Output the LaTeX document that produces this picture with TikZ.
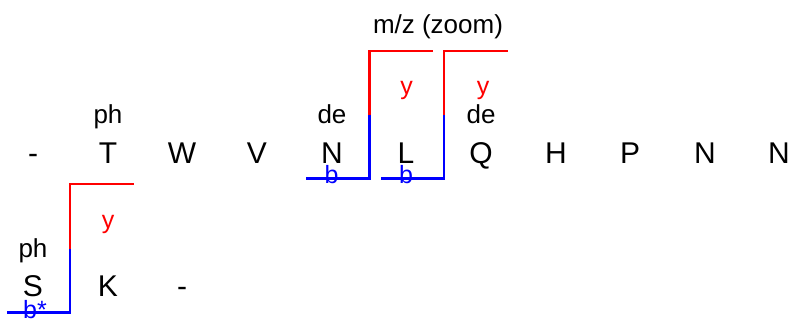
\documentclass[tikz,border=0pt]{standalone}
\usepackage{fontspec}
\setmainfont{Liberation Sans}
\begin{document}
\begin{tikzpicture}[x=1pt,y=-1pt,
  res/.style={font=\fontsize{30}{34}\selectfont, inner sep=0pt, anchor=base},
  lab/.style={font=\fontsize{26}{29}\selectfont, inner sep=0pt, anchor=base},
  ion/.style={font=\fontsize{25}{28}\selectfont, inner sep=0pt, anchor=base},
  bline/.style={draw=blue, line width=2.4pt},
  yline/.style={draw=red, line width=2.4pt}]
\useasboundingbox (0,0) rectangle (790,325);
% row 1 residues
\node[res] (r1) at (33,163.3) {-};
\node[res] (r2) at (108,163.3) {T};
\node[res] (r3) at (182,163.3) {W};
\node[res] (r4) at (257,163.3) {V};
\node[res] (r5) at (332,163.3) {N};
\node[res] (r6) at (406,163.3) {L};
\node[res] (r7) at (481,163.3) {Q};
\node[res] (r8) at (556,163.3) {H};
\node[res] (r9) at (630,163.3) {P};
\node[res] (r10) at (705,163.3) {N};
\node[res] (r11) at (779,163.3) {N};
% modifications
\node[lab] (m2) at (108,123.3) {ph};
\node[lab] (m5) at (332,123.3) {de};
\node[lab] (m7) at (481,123.3) {de};
% row 2
\node[res] (s1) at (33,296.7) {S};
\node[res] (s2) at (108,296.7) {K};
\node[res] (s3) at (182,296.7) {-};
\node[lab] (n1) at (33,257.3) {ph};
% title
\node[lab] (title) at (438,33.3) {m/z (zoom)};
% fragment markers
\coordinate (a1) at (306,178.5);
\coordinate (a2) at (369.5,178.5);
\coordinate (a3) at (369.5,115);
\coordinate (a4) at (369.5,51);
\coordinate (a5) at (433,51);
\draw[bline] (a1) -- (a2) -- (a3);
\draw[yline] (a3) -- (a4) -- (a5);
\node[ion, text=blue] (b1) at (331.5,183.3) {b};
\node[ion, text=red] (y1) at (406.5,94.7) {y};

\coordinate (c1) at (381,178.5);
\coordinate (c2) at (444,178.5);
\coordinate (c3) at (444,115);
\coordinate (c4) at (444,51);
\coordinate (c5) at (507.5,51);
\draw[bline] (c1) -- (c2) -- (c3);
\draw[yline] (c3) -- (c4) -- (c5);
\node[ion, text=blue] (b2) at (406,183.3) {b};
\node[ion, text=red] (y2) at (483,94.7) {y};

\coordinate (d1) at (7,312.5);
\coordinate (d2) at (70,312.5);
\coordinate (d3) at (70,248.5);
\coordinate (d4) at (70,184);
\coordinate (d5) at (133.5,184);
\draw[bline] (d1) -- (d2) -- (d3);
\draw[yline] (d3) -- (d4) -- (d5);
\node[ion, text=blue] (b3) at (35,318) {b*};
\node[ion, text=red] (y3) at (108,228) {y};
\end{tikzpicture}
\end{document}
